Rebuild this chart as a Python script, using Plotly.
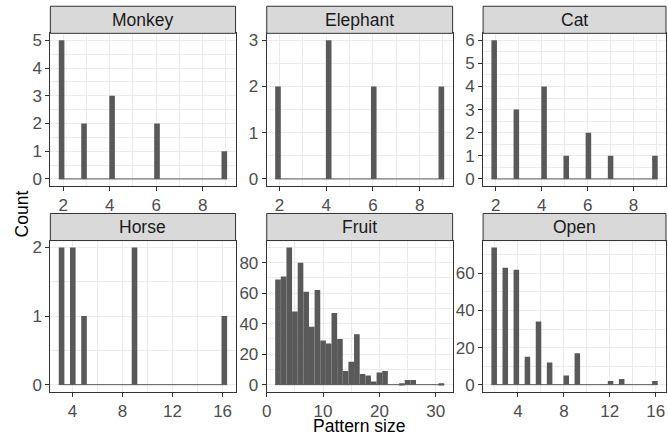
import math
import numpy as np
import plotly.graph_objects as go

# ---- data: pattern sizes and how many times each occurs ----
facets = ["Monkey", "Elephant", "Cat", "Horse", "Fruit", "Open"]

monkey_sizes = [2, 3, 4, 6, 9]
monkey_counts = [5, 2, 3, 2, 1]

elephant_sizes = [2, 4, 6, 9]
elephant_counts = [2, 3, 2, 2]

cat_sizes = [2, 3, 4, 5, 6, 7, 9]
cat_counts = [6, 3, 4, 1, 2, 1, 1]

horse_sizes = [3, 4, 5, 9, 16]
horse_counts = [2, 2, 1, 2, 1]

fruit_sizes = list(range(2, 32))
fruit_counts = [69, 71, 90, 48, 80, 61, 38, 62, 29, 27, 47, 30, 9, 15, 33,
                7, 6, 2, 8, 9, 0, 0, 1, 3, 3, 0, 0, 0, 0, 1]

open_sizes = [2, 3, 4, 5, 6, 7, 8, 9, 12, 13, 16]
open_counts = [74, 63, 62, 15, 34, 12, 5, 17, 2, 3, 2]

x_ticks = {
    "Monkey": [2, 4, 6, 8], "Elephant": [2, 4, 6, 8], "Cat": [2, 4, 6, 8],
    "Horse": [4, 8, 12, 16], "Fruit": [0, 10, 20, 30], "Open": [4, 8, 12, 16],
}
y_ticks = {
    "Monkey": [0, 1, 2, 3, 4, 5], "Elephant": [0, 1, 2, 3],
    "Cat": [0, 1, 2, 3, 4, 5, 6], "Horse": [0, 1, 2],
    "Fruit": [0, 20, 40, 60, 80], "Open": [0, 20, 40, 60],
}

data = {
    "Monkey": (monkey_sizes, monkey_counts),
    "Elephant": (elephant_sizes, elephant_counts),
    "Cat": (cat_sizes, cat_counts),
    "Horse": (horse_sizes, horse_counts),
    "Fruit": (fruit_sizes, fruit_counts),
    "Open": (open_sizes, open_counts),
}


def gg_hist(sizes, counts, bins=30):
    """ggplot2-style binning (bins=30, closed right)."""
    vals = np.repeat(np.array(sizes, float), counts)
    lo, hi = vals.min(), vals.max()
    width = (hi - lo) / (bins - 1)
    boundary = width / 2
    shift = math.floor((lo - boundary) / width)
    origin = boundary + shift * width
    max_x = hi + (1 - 1e-8) * width
    n = int(math.floor((max_x - origin) / width + 1e-10))
    breaks = origin + width * np.arange(n + 1)
    fuzz = 1e-8 * width
    fz = breaks + np.r_[-fuzz, np.full(len(breaks) - 1, fuzz)]
    idx = np.searchsorted(fz, vals, side="left") - 1
    cnt = np.bincount(idx, minlength=len(breaks) - 1)[: len(breaks) - 1]
    centers = (breaks[:-1] + breaks[1:]) / 2
    return centers, cnt, width, breaks


W, H = 668, 440
col_px = [(45.7, 232.3), (263.7, 451.0), (481.7, 666.0)]
row_px = [(31.7, 186.0), (241.3, 394.0)]   # panel top, bottom (from top)
strip_h = 27.4

fig = go.Figure()
shapes, annotations = [], []
font_family = "Liberation Sans, Arial, sans-serif"
BAR = "#595959"
GRID = "#EBEBEB"
BORDER = "#333333"
TICK_SIZE = 17
STRIP_SIZE = 17.5

for i, name in enumerate(facets):
    r, c = divmod(i, 3)
    sizes, counts = data[name]
    centers, cnt, width, breaks = gg_hist(sizes, counts)
    ax = "" if i == 0 else str(i + 1)
    xref, yref = "x" + ax, "y" + ax

    fig.add_trace(go.Bar(x=centers, y=cnt, width=width, marker=dict(color=BAR, line=dict(width=0)),
                         xaxis=xref, yaxis=yref, showlegend=False, hoverinfo="x+y"))
    fig.add_trace(go.Scatter(x=[breaks[0], breaks[-1]], y=[0, 0], mode="lines",
                             line=dict(color=BAR, width=1), xaxis=xref, yaxis=yref,
                             showlegend=False, hoverinfo="skip"))

    xr = breaks[-1] - breaks[0]
    xrange = [breaks[0] - 0.05 * xr, breaks[-1] + 0.05 * xr]
    ymax = cnt.max()
    yrange = [-0.05 * ymax, 1.05 * ymax]

    xt = x_ticks[name]
    yt = y_ticks[name]
    xd = [col_px[c][0] / W, col_px[c][1] / W]
    yd = [1 - row_px[r][1] / H, 1 - row_px[r][0] / H]

    common = dict(showline=True, mirror=True, linecolor=BORDER, linewidth=1,
                  ticks="outside", ticklen=4, tickcolor=BORDER, tickwidth=1,
                  showgrid=True, gridcolor=GRID, gridwidth=1, zeroline=False,
                  tickfont=dict(family=font_family, size=TICK_SIZE, color="#4D4D4D"),
                  fixedrange=True)
    fig.update_layout({
        "xaxis" + ax: dict(domain=xd, anchor=yref, range=xrange, tickmode="array",
                           tickvals=xt, ticktext=[str(v) for v in xt],
                           minor=dict(showgrid=True, gridcolor=GRID, gridwidth=0.5,
                                      tickmode="array",
                                      tickvals=[(a + b) / 2 for a, b in zip(xt[:-1], xt[1:])]
                                      + [xt[-1] + (xt[1] - xt[0]) / 2, xt[0] - (xt[1] - xt[0]) / 2]),
                           **common),
        "yaxis" + ax: dict(domain=yd, anchor=xref, range=yrange, tickmode="array",
                           tickvals=yt, ticktext=[str(v) for v in yt],
                           minor=dict(showgrid=True, gridcolor=GRID, gridwidth=0.5,
                                      tickmode="array",
                                      tickvals=[(a + b) / 2 for a, b in zip(yt[:-1], yt[1:])]
                                      + [yt[-1] + (yt[1] - yt[0]) / 2]),
                           **common),
    })

    # strip
    y0 = 1 - row_px[r][0] / H
    y1 = 1 - (row_px[r][0] - strip_h) / H
    shapes.append(dict(type="rect", xref="paper", yref="paper", x0=xd[0], x1=xd[1],
                       y0=y0, y1=y1, fillcolor="#D9D9D9", line=dict(color=BORDER, width=1)))
    annotations.append(dict(text=name, xref="paper", yref="paper", x=(xd[0] + xd[1]) / 2,
                            y=(y0 + y1) / 2, showarrow=False, xanchor="center", yanchor="middle",
                            font=dict(family=font_family, size=STRIP_SIZE, color="#1A1A1A")))

annotations.append(dict(text="Count", xref="paper", yref="paper", x=17 / W, y=1 - 214 / H,
                        textangle=-90, showarrow=False, xanchor="center", yanchor="middle",
                        font=dict(family=font_family, size=17.5, color="black")))
annotations.append(dict(text="Pattern size", xref="paper", yref="paper", x=357 / W, y=0,
                        showarrow=False, xanchor="center", yanchor="bottom", borderpad=0,
                        font=dict(family=font_family, size=17.5, color="black")))

fig.update_layout(width=W, height=H, margin=dict(l=0, r=0, t=0, b=0),
                  paper_bgcolor="white", plot_bgcolor="white",
                  shapes=shapes, annotations=annotations, barmode="overlay",
                  showlegend=False)

fig.write_html("out.html", config={"displayModeBar": False},
               post_script="document.body.style.margin='0px';document.body.style.overflow='hidden';")
